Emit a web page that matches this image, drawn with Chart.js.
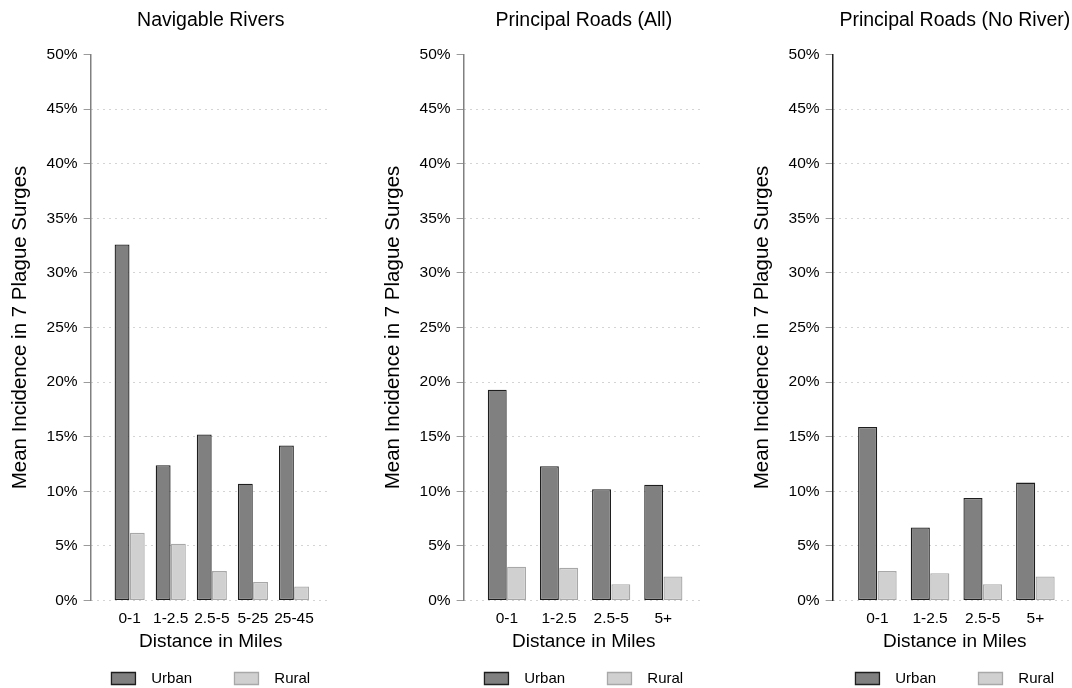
<!DOCTYPE html>
<html><head><meta charset="utf-8">
<script src="https://cdn.jsdelivr.net/npm/chart.js@4"></script>
<style>
html,body{margin:0;padding:0;background:#fff;overflow:hidden;width:1072px;height:688px;position:relative;}
canvas{position:absolute;top:0;}
</style>
</head><body>
<canvas id="c1" width="331" height="696" style="left:0px"></canvas>
<canvas id="c2" width="331" height="696" style="left:373px"></canvas>
<canvas id="c3" width="335" height="696" style="left:742px"></canvas>
<script>
// ---- data ----
const riverCategories = ['0-1', '1-2.5', '2.5-5', '5-25', '25-45'];
const riverUrban = [32.6, 12.4, 15.2, 10.7, 14.2];
const riverRural = [6.2, 5.2, 2.7, 1.7, 1.3];

const roadCategories = ['0-1', '1-2.5', '2.5-5', '5+'];
const roadsAllUrban = [19.3, 12.3, 10.2, 10.6];
const roadsAllRural = [3.1, 3.0, 1.5, 2.2];

const roadsNoRiverUrban = [15.9, 6.7, 9.4, 10.8];
const roadsNoRiverRural = [2.7, 2.5, 1.5, 2.2];

const yTicks = [0, 5, 10, 15, 20, 25, 30, 35, 40, 45, 50];
const seriesNames = ['Urban', 'Rural'];
const panelTitles = ['Navigable Rivers', 'Principal Roads (All)', 'Principal Roads (No River)'];
const yTitle = 'Mean Incidence in 7 Plague Surges';
const xTitle = 'Distance in Miles';

Chart.defaults.font.family = '"Liberation Sans", Arial, Helvetica, sans-serif';
Chart.defaults.color = '#000';

function makePanel(id, title, cats, urban, rural, xMin, xMax, axisColor) {
  const toPts = arr => arr.map((v, i) => ({x: i, y: v}));
  new Chart(document.getElementById(id), {
    type: 'bar',
    data: {
      datasets: [
        {label: seriesNames[0], data: toPts(urban), backgroundColor: '#808080', borderColor: '#1e1e1e',
         borderWidth: 1.3, borderSkipped: false, categoryPercentage: 0.74, barPercentage: 0.98},
        {label: seriesNames[1], data: toPts(rural), backgroundColor: '#d0d0d0', borderColor: '#a8a8a8',
         borderWidth: 1.3, borderSkipped: false, categoryPercentage: 0.74, barPercentage: 0.98}
      ]
    },
    options: {
      responsive: false, animation: false, devicePixelRatio: 1,
      layout: {padding: {left: 0, right: 0, top: 0, bottom: 0}},
      scales: {
        x: {
          type: 'linear', min: xMin, max: xMax, offset: false,
          grid: {display: false, drawTicks: false, offset: false},
          border: {display: false},
          ticks: {
            stepSize: 1, includeBounds: false, autoSkip: false, maxRotation: 0, padding: 8.5,
            font: {size: 15.5},
            callback: v => (Number.isInteger(v) && v >= 0 && v < cats.length) ? cats[v] : ''
          },
          title: {display: true, text: xTitle, font: {size: 19}, padding: {top: -6, bottom: 9}}
        },
        y: {
          min: 0, max: 50,
          afterBuildTicks: s => { s.ticks = yTicks.map(v => ({value: v})); },
          grid: {
            color: c => (c.tick && c.tick.value === 50) ? 'rgba(0,0,0,0)' : '#a8a8a8',
            lineWidth: 1, tickLength: 7, tickColor: '#9a9a9a', tickBorderDash: [], tickWidth: 1
          },
          border: {display: true, color: axisColor, width: 1.5, dash: [1, 5]},
          ticks: {font: {size: 15.5}, padding: 6, callback: v => v + '%'},
          title: {display: true, text: yTitle, font: {size: 20.5}, padding: {top: 8, bottom: 8}}
        }
      },
      plugins: {
        title: {display: true, text: title, font: {size: 19.5, weight: 'normal'}, color: '#000',
                padding: {top: 9, bottom: 22}, fullSize: false},
        tooltip: {enabled: false},
        legend: {
          position: 'bottom', fullSize: false,
          labels: {
            boxWidth: 24, boxHeight: 12, padding: 9, font: {size: 15}, color: '#000',
            generateLabels: chart => {
              const items = Chart.defaults.plugins.legend.labels.generateLabels(chart);
              items.forEach((it, i) => {
                it.text = i === 0 ? '  ' + it.text + '        ' : '  ' + it.text;
                it.lineWidth = 1.3;
              });
              return items;
            }
          }
        }
      }
    }
  });
}

makePanel('c1', panelTitles[0], riverCategories, riverUrban, riverRural, -0.95, 4.9, '#808080');
makePanel('c2', panelTitles[1], roadCategories, roadsAllUrban, roadsAllRural, -0.83, 3.78, '#808080');
makePanel('c3', panelTitles[2], roadCategories, roadsNoRiverUrban, roadsNoRiverRural, -0.85, 3.79, '#222222');
</script>
</body></html>
